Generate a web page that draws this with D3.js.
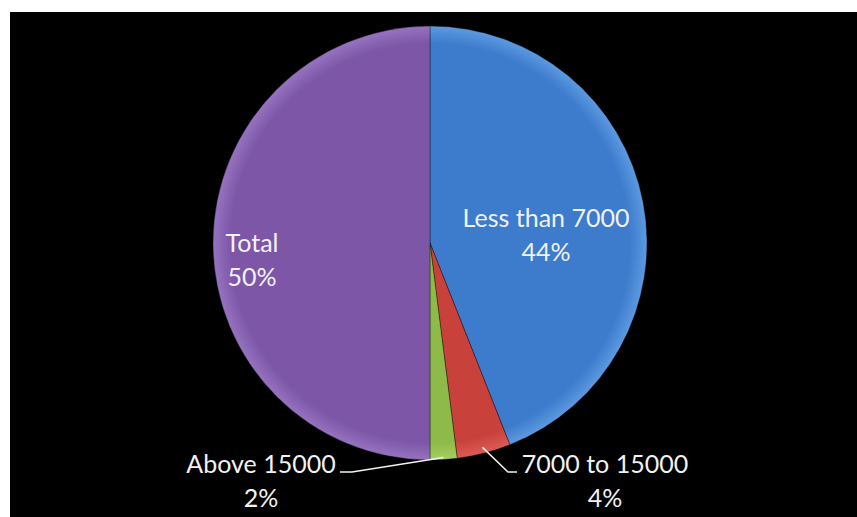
<!DOCTYPE html>
<meta charset="utf-8">
<head>
  <title>Pie</title>
  <style>
    body { margin: 0; background: #fff; }
    text { font-family: Lato, "Open Sans", sans-serif; fill: #f2f2f2; }
  </style>
</head>
<body>
  <svg width="857" height="517"></svg>

  <script src="https://cdnjs.cloudflare.com/ajax/libs/d3/7.8.5/d3.min.js"></script>
  <script>
var categories = ['Less than 7000', '7000 to 15000', 'Above 15000', 'Total'];
var values = [44, 4, 2, 50];
var colors = ['#3d7bcd', '#c8413b', '#8dba48', '#7d56a8'];
var lightColors = ['#5d9ae0', '#dc5c55', '#a6d062', '#9673c0'];

var cx = 430, cy = 243, r = 217;

var svg = d3.select('svg');
svg.append('rect')
  .attr('x', 10).attr('y', 12)
  .attr('width', 847).attr('height', 505)
  .attr('fill', '#000');

var defs = svg.append('defs');
colors.forEach(function(c, i) {
  var g = defs.append('radialGradient')
    .attr('id', 'grad' + i)
    .attr('gradientUnits', 'userSpaceOnUse')
    .attr('cx', 0).attr('cy', 0).attr('r', r);
  g.append('stop').attr('offset', '0%').attr('stop-color', c);
  g.append('stop').attr('offset', '92%').attr('stop-color', c);
  g.append('stop').attr('offset', '100%').attr('stop-color', lightColors[i]);
});

var pie = d3.pie().sort(null).value(function(d) { return d.value; });
var data = categories.map(function(c, i) { return {name: c, value: values[i]}; });
var arcs = pie(data);
var arc = d3.arc().innerRadius(0).outerRadius(r);

var g = svg.append('g').attr('transform', 'translate(' + cx + ',' + cy + ')');

g.selectAll('path')
  .data(arcs)
  .enter()
  .append('path')
  .attr('d', arc)
  .attr('fill', function(d, i) { return 'url(#grad' + i + ')'; })
  .attr('stroke', 'rgba(0,0,0,0.35)')
  .attr('stroke-width', 1);

// label placement (relative to chart centre)
var labelPos = [
  {x: 116, y: -16},
  {x: 175, y: 230},
  {x: -169, y: 230},
  {x: -178, y: 9}
];

function edgePoint(d, rr) {
  var a = (d.startAngle + d.endAngle) / 2;
  return [Math.sin(a) * rr, -Math.cos(a) * rr];
}

arcs.forEach(function(d, i) {
  var p = labelPos[i];
  var t = g.append('text')
    .attr('text-anchor', 'middle')
    .style('font-size', '25px');
  t.append('tspan').attr('x', p.x).attr('y', p.y).text(d.data.name);
  t.append('tspan').attr('x', p.x).attr('y', p.y + 34).text(d.data.value + '%');
});

// leader lines
var e1 = edgePoint(arcs[1], r - 6);
var line = d3.line();
g.append('path')
  .attr('d', line([e1, [78, 229], [87, 229]]))
  .attr('fill', 'none').attr('stroke', '#f2f2f2').attr('stroke-width', 1.5);

var e2 = edgePoint(arcs[2], r - 2);
g.append('path')
  .attr('d', line([e2, [-78, 229], [-90, 229]]))
  .attr('fill', 'none').attr('stroke', '#f2f2f2').attr('stroke-width', 1.5);
  </script>
</body>
</html>
